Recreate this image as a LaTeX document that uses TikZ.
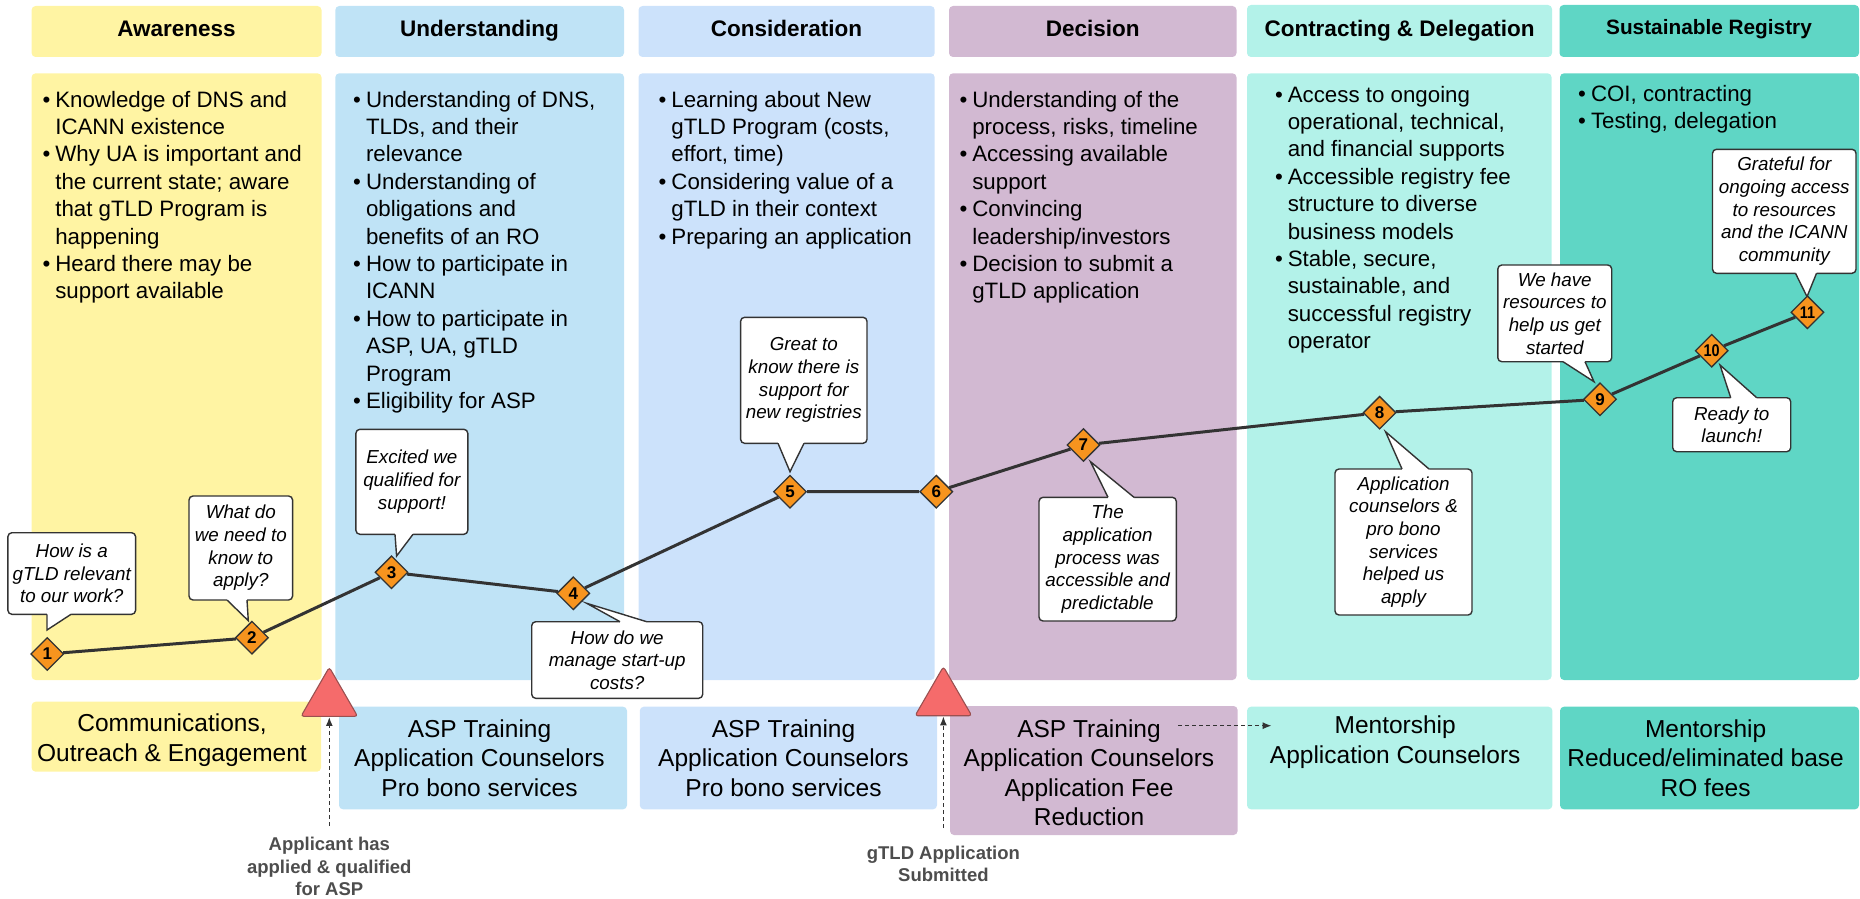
\documentclass[tikz,border=0pt]{standalone}
\usepackage{fontspec}
\usepackage{graphicx}
\setmainfont{Liberation Sans}
\usetikzlibrary{shapes.geometric,arrows.meta,fit}

\definecolor{cAw}{HTML}{FFF4A3}
\definecolor{cUn}{HTML}{BFE3F6}
\definecolor{cCo}{HTML}{CCE2FB}
\definecolor{cDe}{HTML}{D2B9D2}
\definecolor{cCD}{HTML}{B3F2E9}
\definecolor{cSR}{HTML}{5FD6C5}
\definecolor{cTri}{HTML}{F56B6B}
\definecolor{cTriB}{HTML}{9A5050}
\definecolor{cDia}{HTML}{F7941E}
\definecolor{cLine}{HTML}{333333}
\definecolor{cLab}{HTML}{4D4D4D}

\newcommand{\fs}[2]{\fontsize{#1}{#2}\selectfont}
\newcommand{\clines}[1]{\begin{tabular}[t]{@{}c@{}}#1\end{tabular}}
\newcommand{\blist}[1]{\begin{tabular}[t]{@{}l@{\hspace{5pt}}l@{}}#1\end{tabular}}
\newcommand{\ptr}[6]{%
  \fill[white] (#1,#4) -- (#1,#3) -- (#5,#6) -- (#2,#3) -- (#2,#4) -- cycle;
  \draw[ptrline] (#1,#3) -- (#5,#6) -- (#2,#3);}

\pgfdeclarelayer{bg}
\pgfdeclarelayer{mid}
\pgfsetlayers{bg,mid,main}

\tikzset{
 panel/.style={fill=#1, draw=none, rounded corners=4pt, inner sep=0pt},
 head/.style={font=\fs{22.5}{26}\bfseries, anchor=base, inner sep=0pt},
 body/.style={font=\fs{22.3}{27.4}, anchor=base west, inner sep=0pt},
 sup/.style={font=\fs{24.5}{29.5}, anchor=base, inner sep=0pt},
 callout/.style={draw=cLine, fill=white, line width=1.4pt, rounded corners=4pt, inner sep=0pt, align=center, font=\fs{18.8}{22.7}\itshape},
 ptrline/.style={draw=cLine, line width=1.4pt, line join=miter},
 marker/.style={diamond, draw=cLine, fill=cDia, line width=1.3pt, minimum width=33pt, minimum height=33pt, inner sep=0pt, font=\fs{17}{17}\bfseries},
 journey/.style={draw=cLine, line width=3pt},
 tri/.style={regular polygon, regular polygon sides=3, fill=cTri, draw=cTriB, line width=1.1pt, minimum size=65.5pt, inner sep=0pt, rounded corners=3pt},
 milestone/.style={font=\fs{18.5}{22.5}\bfseries, text=cLab, inner sep=0pt, anchor=base},
 dasharrow/.style={draw=cLine, line width=1.5pt, dash pattern=on 4pt off 3pt, -{Latex[length=9pt,width=7pt]}},
}

\begin{document}
\begin{tikzpicture}[x=1pt,y=-1pt]
\useasboundingbox (0,0) rectangle (1860,899);

% ---------- panels ----------
\begin{pgfonlayer}{bg}
\node[panel=cAw, fit={(31.6,6) (321.5,57)}] (hA) {};
\node[panel=cUn, fit={(335.3,6) (624,57)}] (hU) {};
\node[panel=cCo, fit={(638.5,6) (934.7,57)}] (hC) {};
\node[panel=cDe, fit={(949,6) (1236.5,57)}] (hD) {};
\node[panel=cCD, fit={(1247,5) (1552,57)}] (hCD) {};
\node[panel=cSR, fit={(1559.5,5) (1859,57)}] (hS) {};

\node[panel=cAw, fit={(31.6,73.3) (321.5,680)}] (bA) {};
\node[panel=cUn, fit={(335.3,73.3) (624,680)}] (bU) {};
\node[panel=cCo, fit={(638.5,73.3) (934.7,680)}] (bC) {};
\node[panel=cDe, fit={(949,73.3) (1236.5,680)}] (bD) {};
\node[panel=cCD, fit={(1247,73.3) (1551.6,680)}] (bCD) {};
\node[panel=cSR, fit={(1560,73.3) (1859,680)}] (bS) {};

\node[panel=cAw, fit={(31.6,701.7) (321,771.7)}] (sA) {};
\node[panel=cUn, fit={(339,706.7) (627,809.3)}] (sU) {};
\node[panel=cCo, fit={(639.8,706.7) (937,809.3)}] (sC) {};
\node[panel=cDe, fit={(950,706) (1237.6,835)}] (sD) {};
\node[panel=cCD, fit={(1247,706.7) (1552.4,809.3)}] (sCD) {};
\node[panel=cSR, fit={(1560,706.7) (1859,809.3)}] (sS) {};
\end{pgfonlayer}

% ---------- headings ----------
\node[head] (tA) at (176.5,36.2) {Awareness};
\node[head] (tU) at (479.6,36.2) {Understanding};
\node[head] (tC) at (786.5,36.2) {Consideration};
\node[head] (tD) at (1092.8,36.2) {Decision};
\node[head] (tCD) at (1399.5,36.2) {Contracting \& Delegation};
\node[head, font=\fs{20.8}{24}\bfseries] (tS) at (1709,35) {Sustainable Registry};

% ---------- body lists ----------
\node[body] (lA) at (42.3,107) {\blist{%
\textbullet & Knowledge of DNS and\\ & ICANN existence\\
\textbullet & Why UA is important and\\ & the current state; aware\\ & that gTLD Program is\\ & happening\\
\textbullet & Heard there may be\\ & support available}};
\node[body] (lU) at (353,107) {\blist{%
\textbullet & Understanding of DNS,\\ & TLDs, and their\\ & relevance\\
\textbullet & Understanding of\\ & obligations and\\ & benefits of an RO\\
\textbullet & How to participate in\\ & ICANN\\
\textbullet & How to participate in\\ & ASP, UA, gTLD\\ & Program\\
\textbullet & Eligibility for ASP}};
\node[body] (lC) at (658.4,107) {\blist{%
\textbullet & Learning about New\\ & gTLD Program (costs,\\ & effort, time)\\
\textbullet & Considering value of a\\ & gTLD in their context\\
\textbullet & Preparing an application}};
\node[body] (lD) at (959.3,107) {\blist{%
\textbullet & Understanding of the\\ & process, risks, timeline\\
\textbullet & Accessing available\\ & support\\
\textbullet & Convincing\\ & leadership/investors\\
\textbullet & Decision to submit a\\ & gTLD application}};
\node[body] (lCD) at (1274.8,102) {\blist{%
\textbullet & Access to ongoing\\ & operational, technical,\\ & and financial supports\\
\textbullet & Accessible registry fee\\ & structure to diverse\\ & business models\\
\textbullet & Stable, secure,\\ & sustainable, and\\ & successful registry\\ & operator}};
\node[body] (lS) at (1578,101.3) {\blist{%
\textbullet & COI, contracting\\
\textbullet & Testing, delegation}};

% ---------- support boxes text ----------
\node[sup] (xA) at (172,731.5) {\clines{Communications,\\Outreach \& Engagement}};
\node[sup] (xU) at (479.5,737) {\clines{ASP Training\\Application Counselors\\Pro bono services}};
\node[sup] (xC) at (783.5,737) {\clines{ASP Training\\Application Counselors\\Pro bono services}};
\node[sup] (xD) at (1089,737) {\clines{ASP Training\\Application Counselors\\Application Fee\\Reduction}};
\node[sup] (xCD) at (1395.2,733.5) {\clines{Mentorship\\Application Counselors}};
\node[sup] (xS) at (1705.6,737) {\clines{Mentorship\\Reduced/eliminated base\\RO fees}};

% ---------- milestones ----------
\node[tri] (t1) at (329.3,700) {};
\node[tri] (t2) at (943.4,699.4) {};
\node[milestone] (m1) at (329.3,850.5) {\clines{Applicant has\\applied \& qualified\\for ASP}};
\node[milestone] (m2) at (943.4,859) {\clines{gTLD Application\\Submitted}};
\draw[dasharrow] ([yshift=9pt]m1.north) -- (t1.south);
\draw[dasharrow] ([yshift=15pt]m2.north) -- (t2.south);
\coordinate (aS) at (1178,725.7);
\coordinate (aE) at (1271.7,725.7);
\draw[dasharrow] (aS) -- (aE);

% ---------- journey markers ----------
\node[marker] (d1) at (47.3,654) {1};
\node[marker] (d2) at (251.9,637.7) {2};
\node[marker] (d3) at (391.5,572.3) {3};
\node[marker] (d4) at (573.3,593.3) {4};
\node[marker] (d5) at (790,491.7) {5};
\node[marker] (d6) at (936.3,491.7) {6};
\node[marker] (d7) at (1083.4,445) {7};
\node[marker] (d8) at (1379.6,412.7) {8};
\node[marker] (d9) at (1600,399.3) {9};
\node[marker] (d10) at (1711.7,350.7) {\scalebox{0.85}[1]{10}};
\node[marker] (d11) at (1807.4,312.3) {\scalebox{0.85}[1]{11}};

\begin{pgfonlayer}{mid}
\draw[journey] (d1) -- (d2) -- (d3) -- (d4) -- (d5) -- (d6) -- (d7) -- (d8) -- (d9) -- (d10) -- (d11);

% ---------- callouts ----------
\node[callout, minimum width=127.7pt, minimum height=81.6pt] (c1) at (71.75,573.5) {How is a\\gTLD relevant\\to our work?};
\ptr{47}{71}{614.3}{612.5}{47}{630}
\node[callout, minimum width=103.6pt, minimum height=104pt] (c2) at (240.8,548) {What do\\we need to\\know to\\apply?};
\ptr{227}{247}{600}{598.2}{248.3}{620.7}
\node[callout, minimum width=111.9pt, minimum height=105pt] (c3) at (411.85,481.8) {Excited we\\qualified for\\support!};
\ptr{395}{413}{534.3}{532.5}{396.6}{556}
\node[callout, minimum width=171pt, minimum height=76.6pt] (c4) at (617.2,660) {How do we\\manage start-up\\costs?};
\ptr{620}{646.7}{621.7}{623.5}{586.7}{603.3}
\node[callout, minimum width=126.4pt, minimum height=126pt] (c5) at (803.8,380.3) {Great to\\know there is\\support for\\new registries};
\ptr{778}{804}{443.3}{441.5}{790}{471.7}
\node[callout, minimum width=137.3pt, minimum height=123.7pt] (c7) at (1107.65,559.15) {The\\application\\process was\\accessible and\\predictable};
\ptr{1108}{1134}{497.3}{499.1}{1090.5}{461.7}
\node[callout, minimum width=137pt, minimum height=146pt] (c8) at (1403.5,542) {Application\\counselors \&\\pro bono\\services\\helped us\\apply};
\ptr{1402}{1429}{469}{470.8}{1385.5}{431.7}
\node[callout, minimum width=113.9pt, minimum height=96.7pt] (c9) at (1554.75,313.35) {We have\\resources to\\help us get\\started};
\ptr{1563}{1585}{361.7}{359.9}{1594}{381.7}
\node[callout, minimum width=118pt, minimum height=54pt] (c10) at (1731.7,424.7) {Ready to\\launch!};
\ptr{1730.7}{1756.7}{397.7}{399.5}{1720}{365}
\node[callout, minimum width=143.5pt, minimum height=124pt] (c11) at (1784.25,211.3) {Grateful for\\ongoing access\\to resources\\and the ICANN\\community};
\ptr{1795.5}{1816.5}{273.3}{271.5}{1807}{296.7}
\end{pgfonlayer}
\end{tikzpicture}
\end{document}
